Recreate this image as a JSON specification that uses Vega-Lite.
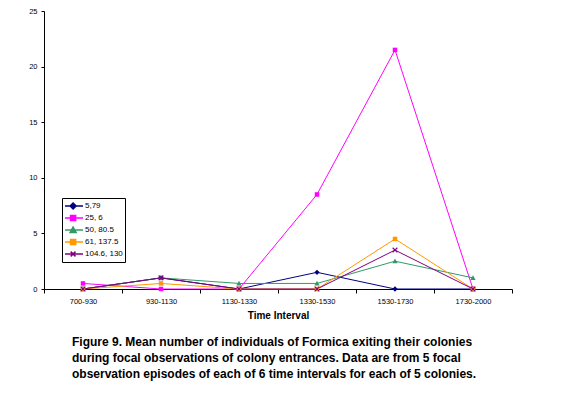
{
  "$schema": "https://vega.github.io/schema/vega-lite/v6.json",
  "autosize": "none",
  "width": 468,
  "height": 278,
  "padding": {"left": 44, "top": 11, "right": 64, "bottom": 106},
  "background": "white",
  "config": {
    "font": "Liberation Sans",
    "view": {"stroke": null},
    "axis": {"grid": false, "domainColor": "black", "tickColor": "black", "labelColor": "black", "titleColor": "black", "labelFont": "Liberation Sans", "titleFont": "Liberation Sans"},
    "legend": {
      "orient": "none",
      "legendX": 18,
      "legendY": 187,
      "strokeColor": "black",
      "fillColor": "white",
      "padding": 2,
      "symbolSize": 36,
      "symbolStrokeWidth": 1.5,
      "symbolOpacity": 1,
      "labelOffset": 13,
      "labelFontSize": 8,
      "labelFont": "Liberation Sans",
      "labelColor": "black",
      "clipHeight": 12,
      "rowPadding": 0
    }
  },
  "title": {
    "text": ["Figure 9. Mean number of individuals of Formica exiting their colonies", "during focal observations of colony entrances.  Data are from 5 focal", "observation episodes of each of 6 time intervals for each of 5 colonies."],
    "orient": "bottom",
    "anchor": "start",
    "frame": "group",
    "dx": 28,
    "offset": 16,
    "fontSize": 12,
    "fontWeight": "bold",
    "lineHeight": 16,
    "color": "black",
    "font": "Liberation Sans"
  },
  "data": {
    "values": [
      {"interval": "700-930", "series": "5,79", "value": 0},
      {"interval": "930-1130", "series": "5,79", "value": 1},
      {"interval": "1130-1330", "series": "5,79", "value": 0},
      {"interval": "1330-1530", "series": "5,79", "value": 1.5},
      {"interval": "1530-1730", "series": "5,79", "value": 0},
      {"interval": "1730-2000", "series": "5,79", "value": 0},
      {"interval": "700-930", "series": "25, 6", "value": 0.5},
      {"interval": "930-1130", "series": "25, 6", "value": 0},
      {"interval": "1130-1330", "series": "25, 6", "value": 0},
      {"interval": "1330-1530", "series": "25, 6", "value": 8.5},
      {"interval": "1530-1730", "series": "25, 6", "value": 21.5},
      {"interval": "1730-2000", "series": "25, 6", "value": 0},
      {"interval": "700-930", "series": "50, 80.5", "value": 0},
      {"interval": "930-1130", "series": "50, 80.5", "value": 1},
      {"interval": "1130-1330", "series": "50, 80.5", "value": 0.5},
      {"interval": "1330-1530", "series": "50, 80.5", "value": 0.5},
      {"interval": "1530-1730", "series": "50, 80.5", "value": 2.5},
      {"interval": "1730-2000", "series": "50, 80.5", "value": 1},
      {"interval": "700-930", "series": "61, 137.5", "value": 0},
      {"interval": "930-1130", "series": "61, 137.5", "value": 0.5},
      {"interval": "1130-1330", "series": "61, 137.5", "value": 0},
      {"interval": "1330-1530", "series": "61, 137.5", "value": 0},
      {"interval": "1530-1730", "series": "61, 137.5", "value": 4.5},
      {"interval": "1730-2000", "series": "61, 137.5", "value": 0},
      {"interval": "700-930", "series": "104.6, 130", "value": 0},
      {"interval": "930-1130", "series": "104.6, 130", "value": 1},
      {"interval": "1130-1330", "series": "104.6, 130", "value": 0},
      {"interval": "1330-1530", "series": "104.6, 130", "value": 0},
      {"interval": "1530-1730", "series": "104.6, 130", "value": 3.5},
      {"interval": "1730-2000", "series": "104.6, 130", "value": 0}
    ]
  },
  "encoding": {
    "x": {
      "field": "interval", "type": "ordinal", "sort": null,
      "scale": {"type": "band", "paddingInner": 0, "paddingOuter": 0},
      "axis": {"title": "Time Interval", "labelAngle": 0, "tickBand": "extent", "tickSize": 4, "labelPadding": 4, "labelFontSize": 7.5, "titleFontSize": 10, "titleFontWeight": "bold", "titlePadding": 6}
    },
    "y": {
      "field": "value", "type": "quantitative",
      "scale": {"domain": [0, 25], "nice": false},
      "axis": {"title": null, "values": [0, 5, 10, 15, 20, 25], "tickSize": 3, "labelPadding": 4, "labelFontSize": 7.5}
    }
  },
  "layer": [
    {
      "mark": {"type": "line", "strokeWidth": 1},
      "encoding": {
        "color": {
          "field": "series", "type": "nominal",
          "scale": {"domain": ["5,79", "25, 6", "50, 80.5", "61, 137.5", "104.6, 130"], "range": ["#000080", "#FF00FF", "#339966", "#FF9900", "#800080"]},
          "legend": {"title": null}
        }
      }
    },
    {
      "transform": [{"filter": "datum.series == '5,79'"}],
      "mark": {"type": "point", "filled": true, "size": 28, "opacity": 1, "shape": "M0,-1L1,0L0,1L-1,0Z"},
      "encoding": {"color": {"field": "series", "type": "nominal", "legend": {"title": null}}}
    },
    {
      "transform": [{"filter": "datum.series == '25, 6'"}],
      "mark": {"type": "point", "filled": true, "size": 28, "opacity": 1, "shape": "M-0.85,-0.85H0.85V0.85H-0.85Z"},
      "encoding": {"color": {"field": "series", "type": "nominal", "legend": {"title": null}}}
    },
    {
      "transform": [{"filter": "datum.series == '50, 80.5'"}],
      "mark": {"type": "point", "filled": true, "size": 28, "opacity": 1, "shape": "M0,-1L1,0.8H-1Z"},
      "encoding": {"color": {"field": "series", "type": "nominal", "legend": {"title": null}}}
    },
    {
      "transform": [{"filter": "datum.series == '61, 137.5'"}],
      "mark": {"type": "point", "filled": true, "size": 28, "opacity": 1, "shape": "M-0.85,-0.85H0.85V0.85H-0.85Z"},
      "encoding": {"color": {"field": "series", "type": "nominal", "legend": {"title": null}}}
    },
    {
      "transform": [{"filter": "datum.series == '104.6, 130'"}],
      "mark": {"type": "point", "filled": false, "size": 22, "opacity": 1, "strokeWidth": 1.2, "shape": "M-1,-1L1,1M-1,1L1,-1"},
      "encoding": {"color": {"field": "series", "type": "nominal", "legend": {"title": null}}}
    },
    {
      "transform": [{"filter": "datum.value < 0"}],
      "mark": {"type": "point", "filled": false, "size": 36, "strokeWidth": 1.5},
      "encoding": {
        "color": {"field": "series", "type": "nominal", "legend": {"title": null}},
        "shape": {
          "field": "series", "type": "nominal",
          "scale": {"domain": ["5,79", "25, 6", "50, 80.5", "61, 137.5", "104.6, 130"], "range": ["M1.7,-1L2.7,0L1.7,1L0.7,0ZM1.7,-0.4L2.1,0L1.7,0.4L1.3,0ZM-1,0H5", "M0.85,-0.85H2.55V0.85H0.85ZM1.3,-0.4H2.1V0.4H1.3ZM-1,0H5", "M1.7,-1L2.7,0.8H0.7ZM1.7,-0.2L2.1,0.5H1.3ZM-1,0H5", "M0.85,-0.85H2.55V0.85H0.85ZM1.3,-0.4H2.1V0.4H1.3ZM-1,0H5", "M0.9,-0.8L2.5,0.8M0.9,0.8L2.5,-0.8M-1,0H5"]},
          "legend": {"title": null}
        }
      }
    }
  ]
}
